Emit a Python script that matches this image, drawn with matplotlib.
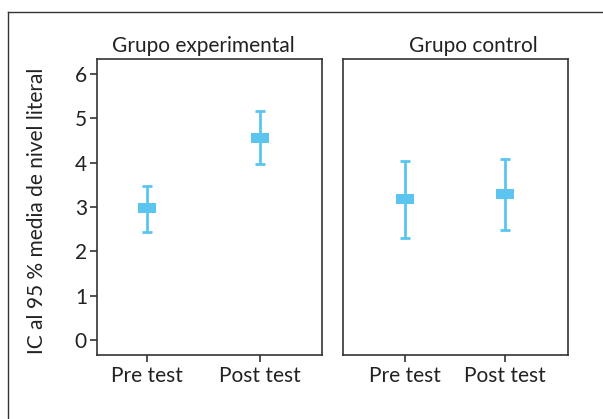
import matplotlib
matplotlib.use("Agg")
import matplotlib.pyplot as plt
from matplotlib.path import Path
from matplotlib.lines import Line2D

plt.rcParams['font.family'] = ['Lato', 'DejaVu Sans']

groups = ["Grupo experimental", "Grupo control"]
categories = ["Pre test", "Post test"]
means = [[2.97, 4.56], [3.19, 3.30]]
lower = [[2.44, 3.97], [2.31, 2.47]]
upper = [[3.48, 5.17], [4.04, 4.09]]
yticks = [0, 1, 2, 3, 4, 5, 6]
ylabel = "IC al 95 % media de nivel literal"

color = "#5BC5F0"
dark = "#333333"
txt = "#222222"
fs = 15

fig = plt.figure(figsize=(6.03, 4.19), dpi=100)

# outer frame (left and top edges visible)
fig.add_artist(Line2D([8/603, 8/603], [0, 1 - 12/419], color=dark, lw=1.0))
fig.add_artist(Line2D([8/603, 1], [1 - 12/419, 1 - 12/419], color=dark, lw=1.0))

box_marker = Path([(-1, -0.5), (1, -0.5), (1, 0.5), (-1, 0.5), (-1, -0.5)],
                  [Path.MOVETO, Path.LINETO, Path.LINETO, Path.LINETO, Path.CLOSEPOLY])

panels = [
    dict(left=96.7/603, xlim=(0.559, 2.547), title_x=203.5/603),
    dict(left=342.7/603, xlim=(0.382, 2.628), title_x=473/603),
]
bottom = 1 - 355/419
height = 296/419
width = 225.3/603

for gi, (g, p) in enumerate(zip(groups, panels)):
    ax = fig.add_axes([p['left'], bottom, width, height])
    xs = [1, 2]
    m = means[gi]
    err_lo = [mi - lo for mi, lo in zip(m, lower[gi])]
    err_hi = [hi - mi for mi, hi in zip(m, upper[gi])]
    ax.errorbar(xs, m, yerr=[err_lo, err_hi], fmt='none', ecolor=color,
                elinewidth=2, capsize=3.5, capthick=2, zorder=2)
    ax.plot(xs, m, linestyle='none', marker=box_marker, markersize=13,
            color=color, markeredgewidth=0, zorder=3)
    ax.set_xlim(*p['xlim'])
    ax.set_ylim(-0.34, 6.34)
    ax.set_xticks(xs)
    ax.set_xticklabels(categories, fontsize=fs, color=txt)
    for s in ax.spines.values():
        s.set_color(dark)
        s.set_linewidth(1.2)
    ax.tick_params(axis='x', length=5, width=1.2, color=dark, pad=3)
    if gi == 0:
        ax.set_yticks(yticks)
        ax.set_yticklabels([str(t) for t in yticks], fontsize=fs, color=txt)
        ax.tick_params(axis='y', length=5, width=1.2, color=dark, pad=2)
    else:
        ax.set_yticks([])
    fig.text(p['title_x'], 1 - 46.5/419, g, ha='center', va='center',
             fontsize=fs, color=txt)

fig.text(37/603, 1 - 211/419, ylabel, rotation=90, ha='center', va='center',
         fontsize=fs, color=txt)

fig.savefig("out.png", dpi=100)
